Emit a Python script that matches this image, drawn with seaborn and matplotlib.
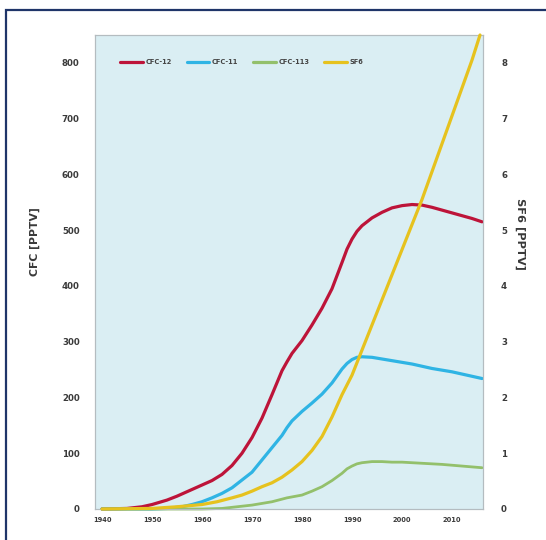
import matplotlib
matplotlib.use("Agg")
import matplotlib.pyplot as plt
import matplotlib.patches as mpatches
import seaborn as sns
import pandas as pd

# CFC-12 mixing ratio (ppt)
cfc12_years = [1940, 1945, 1948, 1950, 1953, 1955, 1958, 1960, 1962, 1964, 1966, 1968,
               1970, 1972, 1974, 1976, 1977, 1978, 1980, 1982, 1984, 1986, 1988, 1989,
               1990, 1991, 1992, 1994, 1996, 1998, 2000, 2002, 2004, 2006, 2008, 2010,
               2012, 2014, 2016]
cfc12_vals = [0, 1, 4, 8, 16, 23, 35, 43, 51, 62, 78, 100,
              128, 163, 205, 248, 264, 279, 302, 330, 360, 395, 442, 466,
              484, 498, 508, 522, 532, 540, 544, 546, 545, 541, 536, 531,
              526, 521, 515]

# CFC-11 mixing ratio (ppt)
cfc11_years = [1940, 1950, 1953, 1956, 1958, 1960, 1962, 1964, 1966, 1968, 1970, 1972,
               1974, 1976, 1977, 1978, 1980, 1982, 1984, 1986, 1988, 1989, 1990, 1991,
               1992, 1994, 1996, 1998, 2000, 2002, 2004, 2006, 2008, 2010, 2012, 2014,
               2016]
cfc11_vals = [0, 0, 1, 4, 8, 13, 20, 28, 38, 52, 66, 88,
              110, 132, 146, 158, 175, 190, 206, 226, 251, 261, 268, 272,
              273, 272, 269, 266, 263, 260, 256, 252, 249, 246, 242, 238,
              234]

# CFC-113 mixing ratio (ppt)
cfc113_years = [1940, 1960, 1964, 1967, 1970, 1974, 1977, 1980, 1982, 1984, 1986, 1988,
                1989, 1990, 1991, 1992, 1994, 1996, 1998, 2000, 2004, 2008, 2012, 2016]
cfc113_vals = [0, 0, 1, 4, 7, 13, 20, 25, 32, 40, 51, 64,
               72, 77, 81, 83, 85, 85, 84, 84, 82, 80, 77, 74]

# SF6 mixing ratio (ppt), right-hand axis
sf6_years = [1940, 1950, 1955, 1960, 1963, 1966, 1968, 1970, 1972, 1974, 1976, 1978,
             1980, 1982, 1984, 1986, 1988, 1990, 1992, 1994, 1996, 1998, 2000, 2002,
             2004, 2006, 2008, 2010, 2012, 2014, 2015.6]
sf6_vals = [0, 0.01, 0.04, 0.08, 0.13, 0.2, 0.25, 0.32, 0.4, 0.47, 0.57, 0.7,
            0.85, 1.05, 1.3, 1.65, 2.05, 2.4, 2.85, 3.3, 3.75, 4.2, 4.65, 5.1,
            5.55, 6.05, 6.55, 7.05, 7.55, 8.05, 8.5]

x_ticks = [1940, 1950, 1960, 1970, 1980, 1990, 2000, 2010]
left_ticks = [0, 100, 200, 300, 400, 500, 600, 700, 800]
right_ticks = [0, 1, 2, 3, 4, 5, 6, 7, 8]

sns.set_theme(style="white")
plt.rcParams["font.family"] = ["DejaVu Sans"]

fig = plt.figure(figsize=(5.46, 5.40), dpi=100)
fig.patch.set_facecolor("white")
ax = fig.add_axes([95 / 546, 31 / 540, 388 / 546, 474 / 540])
ax.set_facecolor("#daeef3")
ax2 = ax.twinx()

lw = 2.3
styles = [
    ("CFC-12", cfc12_years, cfc12_vals, "#bd1439", ax),
    ("CFC-11", cfc11_years, cfc11_vals, "#2fb4e4", ax),
    ("CFC-113", cfc113_years, cfc113_vals, "#93c06b", ax),
    ("SF6", sf6_years, sf6_vals, "#e6c21e", ax2),
]
handles = []
for name, yrs, vals, col, target in styles:
    df = pd.DataFrame({"year": yrs, "value": vals})
    sns.lineplot(data=df, x="year", y="value", ax=target, color=col,
                 linewidth=lw if name != "CFC-113" else 2.0, label=name,
                 legend=False, clip_on=False, zorder=3)
    handles.append(plt.Line2D([], [], color=col, linewidth=lw))

ax.set_xlim(1938.6, 2016.2)
ax.set_ylim(0, 850)
ax2.set_ylim(0, 8.5)
ax.set_xticks(x_ticks)
ax.set_yticks(left_ticks)
ax2.set_yticks(right_ticks)
ax.set_xlabel("")
ax.set_ylabel("")
ax2.set_ylabel("")

tick_col = "#3a3a3a"
ax.tick_params(axis="x", labelsize=4.8, colors=tick_col, length=2, width=0.6,
               direction="inout", pad=5)
ax.tick_params(axis="y", labelsize=6.2, colors=tick_col, length=0, pad=11)
ax2.tick_params(axis="y", labelsize=6.2, colors=tick_col, length=0, pad=13)
for lab in ax.get_xticklabels() + ax.get_yticklabels() + ax2.get_yticklabels():
    lab.set_fontweight("bold")
    lab.set_color(tick_col)
ax.tick_params(axis="x", color="#9aa4a8")

for a in (ax, ax2):
    for s in a.spines.values():
        s.set_color("#b4bcc0")
        s.set_linewidth(0.8)

ax.text(-0.155, 0.565, "CFC [PPTV]", transform=ax.transAxes, rotation=90,
        ha="center", va="center", fontsize=7.8, fontweight="bold", color=tick_col)
ax2.text(1.095, 0.58, "SF6 [PPTV]", transform=ax2.transAxes, rotation=270,
         ha="center", va="center", fontsize=8.2, fontweight="bold", color=tick_col)

leg = ax2.legend(handles, [s[0] for s in styles], ncol=4, frameon=False,
                 loc="center left", bbox_to_anchor=(0.05, 0.943),
                 fontsize=4.8, handlelength=3.4, handletextpad=0.4,
                 columnspacing=2.2)
for t in leg.get_texts():
    t.set_color("#444444")
    t.set_fontweight("bold")

# outer frame
fig.patches.append(mpatches.Rectangle((6 / 546, -0.05), 1.1, (540 - 10) / 540 + 0.05,
                                      transform=fig.transFigure, fill=False,
                                      edgecolor="#1f3569", linewidth=1.6))

fig.savefig("out.png", dpi=100)
